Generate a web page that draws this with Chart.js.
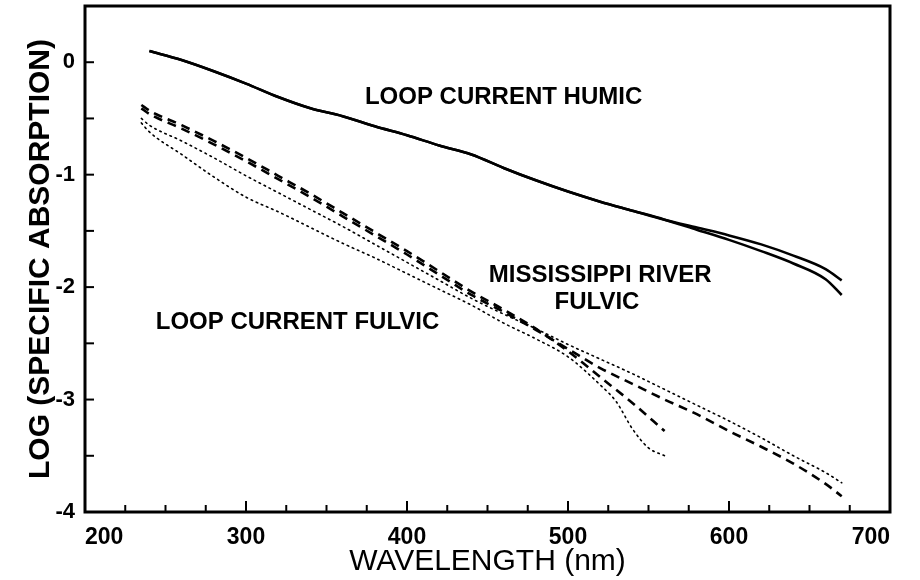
<!DOCTYPE html>
<html>
<head>
<meta charset="utf-8">
<script src="https://cdn.jsdelivr.net/npm/chart.js@4/dist/chart.umd.min.js"></script>
<style>
html,body{margin:0;padding:0;background:#fff;}
#wrap{width:920px;height:580px;}
</style>
</head>
<body>
<div id="wrap"><canvas id="c" width="920" height="580"></canvas></div>
<script>
// ---- data ----
const xTicks = [200, 300, 400, 500, 600, 700];
const yTicks = [-4, -3, -2, -1, 0];

const humicWl = [240,260,280,300,320,340,360,380,400,420,440,460,480,500,520,540,560,580,600,620,640,660,670];
const humicA  = [0.10,0.02,-0.08,-0.19,-0.31,-0.41,-0.48,-0.57,-0.65,-0.74,-0.82,-0.94,-1.05,-1.15,-1.24,-1.32,-1.40,-1.47,-1.54,-1.62,-1.72,-1.84,-1.94];
const humicB  = [0.10,0.02,-0.08,-0.19,-0.31,-0.41,-0.48,-0.57,-0.65,-0.74,-0.82,-0.94,-1.05,-1.15,-1.24,-1.32,-1.40,-1.49,-1.58,-1.68,-1.79,-1.93,-2.07];

const longWl = [235,240,260,280,300,320,340,360,380,400,420,440,460,480,500,520,540,560,580,600,620,640,660,670];
const dashedLong = [-0.41,-0.46,-0.59,-0.73,-0.88,-1.04,-1.20,-1.37,-1.54,-1.71,-1.89,-2.07,-2.22,-2.38,-2.55,-2.72,-2.86,-3.00,-3.13,-3.28,-3.42,-3.57,-3.75,-3.86];
const dottedLong = [-0.50,-0.56,-0.70,-0.85,-1.01,-1.16,-1.31,-1.46,-1.62,-1.78,-1.94,-2.10,-2.24,-2.37,-2.51,-2.64,-2.77,-2.91,-3.05,-3.19,-3.34,-3.50,-3.65,-3.74];

const dashedShortWl = [235,240,260,280,300,320,340,360,380,400,420,440,460,480,500,520,540,560];
const dashedShort = [-0.38,-0.43,-0.56,-0.70,-0.85,-1.01,-1.17,-1.34,-1.51,-1.68,-1.86,-2.04,-2.20,-2.37,-2.57,-2.80,-3.03,-3.28];

const dottedShortWl = [235,240,260,280,300,320,340,360,380,400,420,440,460,480,500,520,530,540,550,560];
const dottedShort = [-0.54,-0.62,-0.82,-1.02,-1.20,-1.33,-1.47,-1.61,-1.74,-1.88,-2.02,-2.16,-2.32,-2.46,-2.62,-2.87,-3.02,-3.26,-3.43,-3.50];

const noteText = ['LOOP CURRENT HUMIC', 'MISSISSIPPI RIVER', 'FULVIC', 'LOOP CURRENT FULVIC'];
const noteX = [460, 520, 518, 332];
const noteY = [-0.31, -1.90, -2.14, -2.31];

// ---- helpers ----
const pts = (xs, ys) => xs.map((x, i) => ({x: x, y: ys[i]}));
const FONT = "'Liberation Sans', Arial, Helvetica, sans-serif";

function ds(label, xs, ys, kind) {
  const base = {label: label, data: pts(xs, ys), borderColor: '#000', backgroundColor: '#000',
    pointRadius: 0, fill: false, cubicInterpolationMode: 'monotone'};
  if (kind === 'solid') { base.borderWidth = 2.6; }
  if (kind === 'dash') { base.borderWidth = 2.6; base.borderDash = [9, 6]; }
  if (kind === 'dot') { base.borderWidth = 1.6; base.borderDash = [1.6, 4]; base.borderCapStyle = 'round'; }
  return base;
}

const framePlugin = {
  id: 'frame',
  afterDatasetsDraw(chart) {
    const {ctx, chartArea: a, scales} = chart;
    ctx.save();
    ctx.strokeStyle = '#000';
    ctx.lineWidth = 2;
    const xs = scales.x, ys = scales.y;
    for (let v = 200; v <= 700; v += 25) {
      const px = xs.getPixelForValue(v);
      const len = (v % 100 === 0) ? 11 : 7;
      ctx.beginPath(); ctx.moveTo(px, a.bottom); ctx.lineTo(px, a.bottom - len); ctx.stroke();
    }
    for (let v = -4; v <= 0.5; v += 0.5) {
      const py = ys.getPixelForValue(v);
      ctx.beginPath(); ctx.moveTo(a.left, py); ctx.lineTo(a.left + 9, py); ctx.stroke();
    }
    ctx.lineWidth = 3;
    ctx.strokeRect(a.left, a.top, a.right - a.left, a.bottom - a.top);
    ctx.fillStyle = '#000';
    ctx.font = 'bold 24px ' + FONT;
    ctx.textAlign = 'center';
    ctx.textBaseline = 'middle';
    noteText.forEach((t, i) => {
      ctx.fillText(t, xs.getPixelForValue(noteX[i]), ys.getPixelForValue(noteY[i]));
    });
    ctx.restore();
  }
};

new Chart(document.getElementById('c'), {
  type: 'line',
  data: {
    datasets: [
      ds('Loop Current humic (a)', humicWl, humicA, 'solid'),
      ds('Loop Current humic (b)', humicWl, humicB, 'solid'),
      ds('Fulvic dashed (long)', longWl, dashedLong, 'dash'),
      ds('Fulvic dashed (short)', dashedShortWl, dashedShort, 'dash'),
      ds('Fulvic dotted (long)', longWl, dottedLong, 'dot'),
      ds('Fulvic dotted (short)', dottedShortWl, dottedShort, 'dot')
    ]
  },
  options: {
    responsive: false,
    animation: false,
    layout: {padding: {left: 0, right: 30, top: 6, bottom: 0}},
    plugins: {legend: {display: false}, tooltip: {enabled: false}},
    scales: {
      x: {
        type: 'linear', min: 200, max: 700,
        afterBuildTicks: s => { s.ticks = xTicks.map(v => ({value: v})); },
        afterFit: s => { s.height = 68; s.paddingLeft = 0; s.paddingRight = 0; },
        grid: {display: false, drawTicks: false},
        border: {display: false},
        ticks: {color: '#000', padding: 12, align: 'inner', font: {family: FONT, size: 23, weight: 'bold'},
                callback: v => String(v), maxRotation: 0, autoSkip: false},
        title: {display: true, text: 'WAVELENGTH (nm)', color: '#000',
                font: {family: FONT, size: 30}, padding: {top: 0, bottom: 0}}
      },
      y: {
        type: 'linear', min: -4, max: 0.5,
        afterBuildTicks: s => { s.ticks = yTicks.map(v => ({value: v})); },
        afterFit: s => { s.width = 85; s.paddingTop = 0; s.paddingBottom = 0; },
        grid: {display: false, drawTicks: false},
        border: {display: false},
        ticks: {color: '#000', padding: 10, font: {family: FONT, size: 22, weight: 'bold'},
                callback: v => String(v), autoSkip: false},
        title: {display: true, text: 'LOG (SPECIFIC ABSORPTION)', color: '#000',
                font: {family: FONT, size: 30, weight: 'bold'}, padding: {top: 23, bottom: 0}}
      }
    }
  },
  plugins: [framePlugin]
});
</script>
</body>
</html>
